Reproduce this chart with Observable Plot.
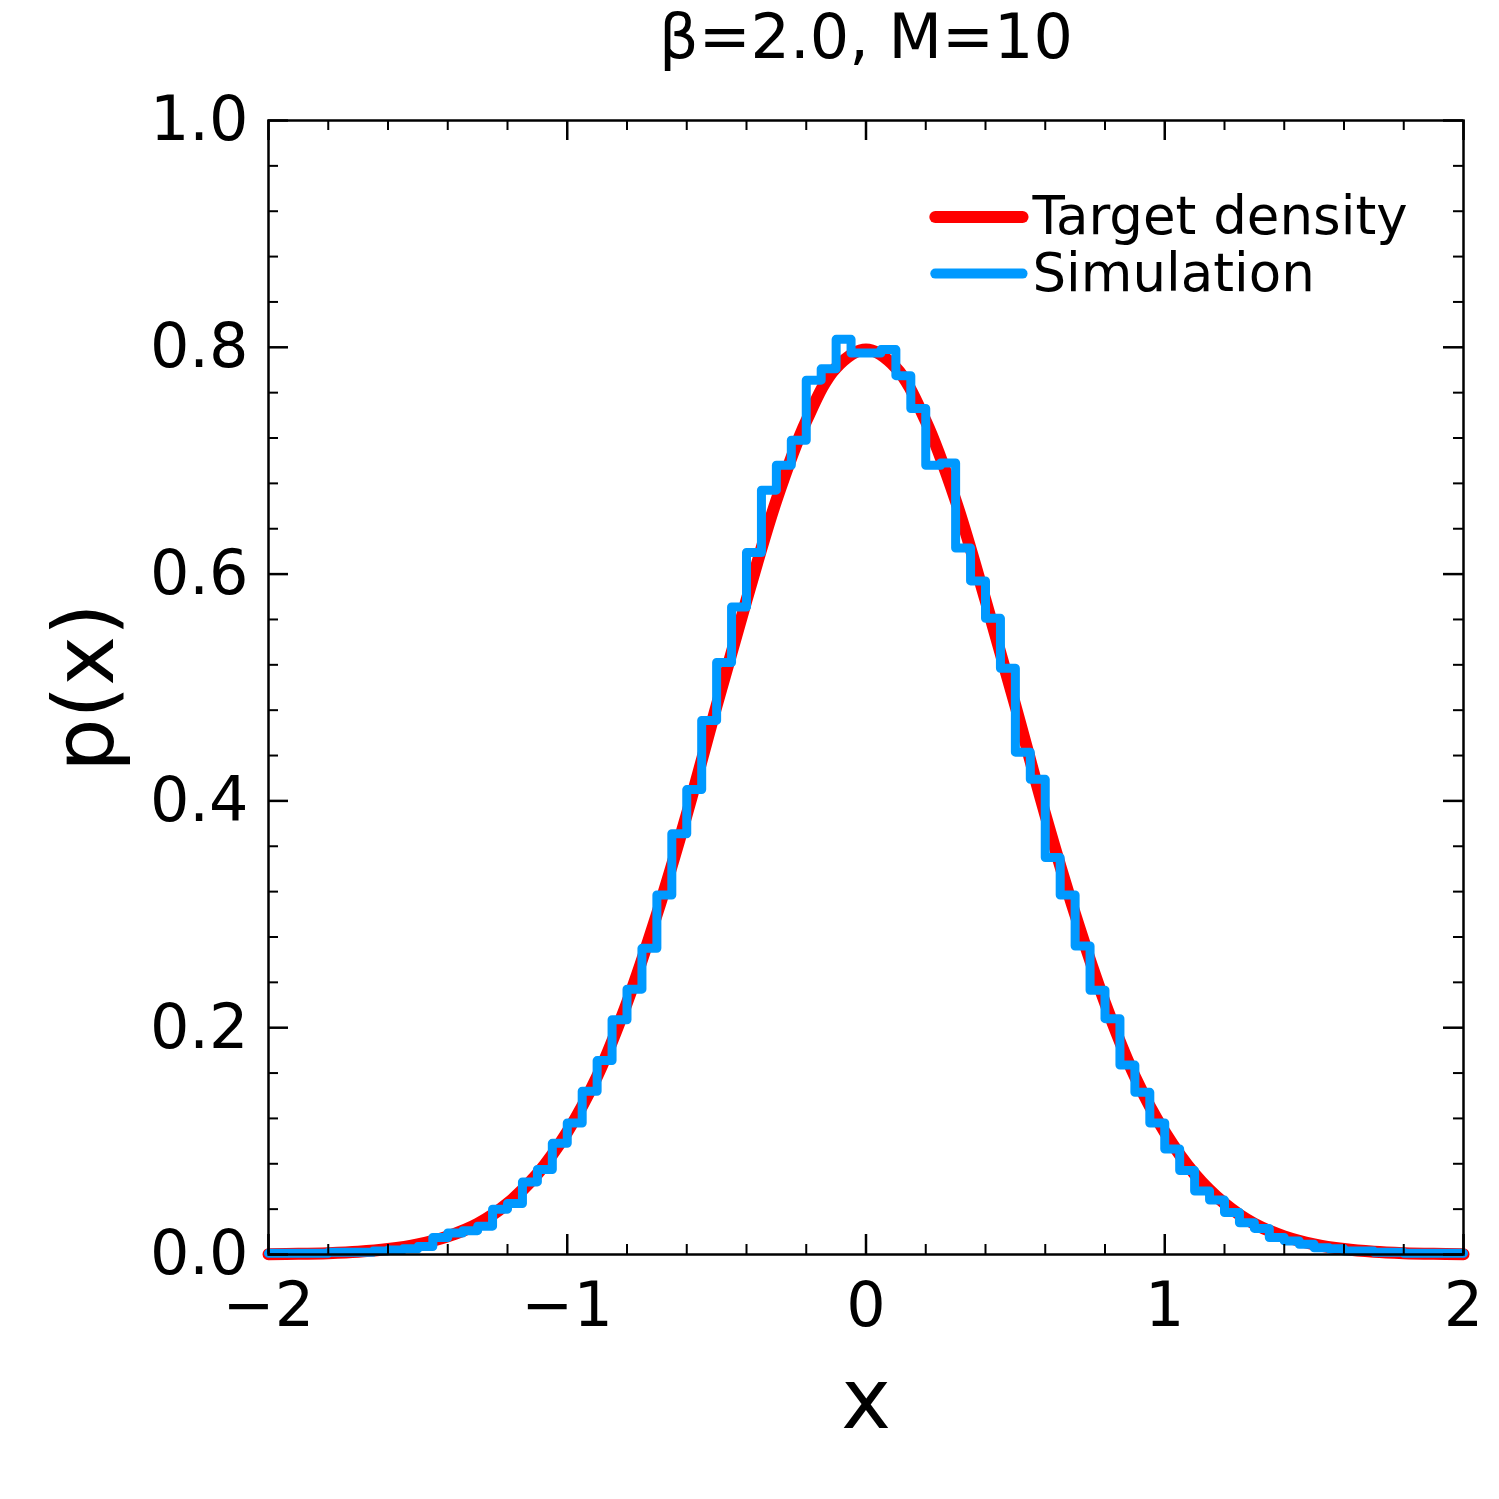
<!DOCTYPE html>
<html><head><meta charset="utf-8">
<script src="https://cdn.jsdelivr.net/npm/d3@7"></script>
<script src="https://cdn.jsdelivr.net/npm/@observablehq/plot@0.6"></script>
<style>body{margin:0;background:#fff}</style>
</head><body><div id="c"></div>
<script>
const binStart = -2, binWidth = 0.05;
const simValues = [
0.001,0.001,0.001,0.001,0.002,0.002,0.002,0.003,0.004,0.005,
0.007,0.015,0.019,0.021,0.025,0.040,0.045,0.064,0.075,0.098,
0.116,0.144,0.171,0.207,0.234,0.270,0.317,0.371,0.410,0.471,
0.522,0.571,0.619,0.674,0.696,0.718,0.771,0.781,0.807,0.795,
0.795,0.798,0.775,0.746,0.696,0.698,0.623,0.594,0.561,0.517,
0.443,0.419,0.350,0.317,0.272,0.233,0.208,0.167,0.143,0.116,
0.093,0.074,0.056,0.048,0.037,0.028,0.023,0.015,0.012,0.009,
0.006,0.005,0.003,0.003,0.002,0.002,0.001,0.001,0.001,0.001];
const targetX = d3.range(-20,21).map(i=>i/10);
const targetHalf = [0.798,0.782,0.735,0.665,0.577,0.484,0.388,0.300,0.222,0.157,0.108,0.071,0.045,0.027,0.016,0.009,0.0048,0.0024,0.0012,0.0006,0.0003];
const targetY = [...targetHalf.slice(1).reverse(), ...targetHalf];
const xMajor=[-2,-1,0,1,2], xMinor=[-1.8,-1.6,-1.4,-1.2,-0.8,-0.6,-0.4,-0.2,0.2,0.4,0.6,0.8,1.2,1.4,1.6,1.8];
const yMajor=[0,0.2,0.4,0.6,0.8,1.0];
const yMinor=d3.range(0,26).map(i=>+(i*0.04).toFixed(2)).filter(v=>!yMajor.some(m=>Math.abs(m-v)<1e-9));
const legend=[{label:"Target density",color:"#ff0000",w:12,y:0.915},{label:"Simulation",color:"#0099ff",w:10,y:0.865}];

const sim = simValues.map((v,i)=>({x:binStart+i*binWidth,y:v}));
sim.push({x:binStart+simValues.length*binWidth,y:simValues[simValues.length-1]});
const target = targetX.map((x,i)=>({x,y:targetY[i]}));
const px=298.75, py=1134;
const tk=(len,ax)=>len/ax;
const fmtX=d=>d<0?"\u2212"+(-d):String(d);
const chart = Plot.plot({
  width:1499,height:1499,marginLeft:268,marginRight:36,marginTop:120,marginBottom:245,
  style:{fontFamily:"DejaVu Sans",background:"#fff"},
  x:{domain:[-2,2],axis:null},y:{domain:[0,1],axis:null},
  marks:[
    Plot.line(target,{x:"x",y:"y",stroke:"#ff0000",strokeWidth:12,curve:"catmull-rom"}),
    Plot.line(sim,{x:"x",y:"y",stroke:"#0099ff",strokeWidth:9,curve:"step-after"}),
    Plot.frame({stroke:"#000",strokeWidth:2.5}),
    Plot.ruleX(xMajor,{x:d=>d,y1:0,y2:tk(20,py),stroke:"#000",strokeWidth:2.5}),
    Plot.ruleX(xMajor,{x:d=>d,y1:1-tk(20,py),y2:1,stroke:"#000",strokeWidth:2.5}),
    Plot.ruleX(xMinor,{x:d=>d,y1:0,y2:tk(10,py),stroke:"#000",strokeWidth:2}),
    Plot.ruleX(xMinor,{x:d=>d,y1:1-tk(10,py),y2:1,stroke:"#000",strokeWidth:2}),
    Plot.ruleY(yMajor,{y:d=>d,x1:-2,x2:-2+tk(20,px),stroke:"#000",strokeWidth:2.5}),
    Plot.ruleY(yMajor,{y:d=>d,x1:2-tk(20,px),x2:2,stroke:"#000",strokeWidth:2.5}),
    Plot.ruleY(yMinor,{y:d=>d,x1:-2,x2:-2+tk(10,px),stroke:"#000",strokeWidth:2}),
    Plot.ruleY(yMinor,{y:d=>d,x1:2-tk(10,px),x2:2,stroke:"#000",strokeWidth:2}),
    Plot.text(xMajor,{x:d=>d,y:0,text:fmtX,dy:52,fontSize:62,fill:"#000"}),
    Plot.text(yMajor,{x:-2,y:d=>d,text:d=>d.toFixed(1),dx:-20,textAnchor:"end",fontSize:62,fill:"#000"}),
    Plot.text(["x"],{x:0,y:0,text:d=>d,dy:147,fontSize:84,fill:"#000"}),
    Plot.text(["p(x)"],{x:-2,y:0.5,text:d=>d,dx:-182,rotate:-90,fontSize:84,fill:"#000"}),
    Plot.text(["\u03b2=2.0, M=10"],{x:0,y:1,text:d=>d,dy:-82,fontSize:62,fill:"#000"}),
    Plot.link(legend,{x1:0.232,x2:0.524,y1:"y",y2:"y",stroke:"color",strokeWidth:"w",strokeLinecap:"round"}),
    Plot.text(legend,{x:0.557,y:"y",text:"label",textAnchor:"start",fontSize:53,fill:"#000"})
  ]
});
document.getElementById("c").append(chart);
</script></body></html>
